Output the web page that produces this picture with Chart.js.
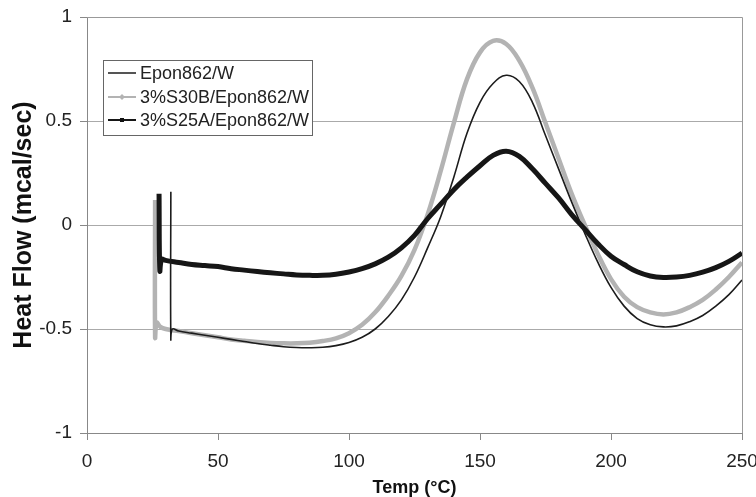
<!DOCTYPE html>
<html>
<head>
<meta charset="utf-8">
<script src="https://cdn.jsdelivr.net/npm/chart.js@4.4.1/dist/chart.umd.min.js"></script>
<style>
  html, body { margin: 0; padding: 0; background: #fff; }
  #wrap { width: 756px; height: 497px; }
</style>
</head>
<body>
<div id="wrap"><canvas id="dscChart" width="756" height="497"></canvas></div>
<script>
// DSC curves
var seriesNames = ['Epon862/W', '3%S30B/Epon862/W', '3%S25A/Epon862/W'];

var eponTemp = [32, 32, 32.6, 35, 40, 45, 50, 55, 60, 65, 70, 75, 80, 85, 90, 95, 100, 105, 110, 115, 120, 125, 130, 135, 140, 145, 150, 155, 160, 165, 170, 175, 180, 185, 190, 195, 200, 205, 210, 215, 220, 225, 230, 235, 240, 245, 250];
var eponFlow = [0.16, -0.55, -0.5, -0.51, -0.52, -0.53, -0.54, -0.55, -0.56, -0.57, -0.578, -0.585, -0.589, -0.59, -0.588, -0.58, -0.565, -0.54, -0.5, -0.44, -0.36, -0.25, -0.11, 0.04, 0.23, 0.44, 0.59, 0.68, 0.72, 0.69, 0.59, 0.43, 0.27, 0.11, -0.04, -0.18, -0.3, -0.39, -0.45, -0.48, -0.49, -0.485, -0.465, -0.435, -0.39, -0.335, -0.265];

var s30bTemp = [26, 26, 26.6, 28, 30, 35, 40, 45, 50, 55, 60, 65, 70, 75, 80, 85, 90, 95, 100, 105, 110, 115, 120, 125, 130, 135, 140, 145, 150, 155, 160, 165, 170, 175, 180, 185, 190, 195, 200, 205, 210, 215, 220, 225, 230, 235, 240, 245, 250];
var s30bFlow = [0.12, -0.54, -0.47, -0.49, -0.5, -0.51, -0.52, -0.53, -0.54, -0.55, -0.557, -0.563, -0.567, -0.569, -0.569, -0.566, -0.558, -0.545, -0.52, -0.48, -0.42, -0.34, -0.245, -0.12, 0.05, 0.26, 0.49, 0.7, 0.83, 0.885, 0.87, 0.79, 0.66, 0.49, 0.32, 0.15, 0, -0.14, -0.26, -0.345, -0.395, -0.42, -0.43, -0.42, -0.395, -0.36, -0.31, -0.25, -0.18];

var s25aTemp = [27.5, 27.8, 28.5, 30, 35, 40, 45, 50, 55, 60, 65, 70, 75, 80, 85, 90, 95, 100, 105, 110, 115, 120, 125, 130, 135, 140, 145, 150, 155, 160, 165, 170, 175, 180, 185, 190, 195, 200, 205, 210, 215, 220, 225, 230, 235, 240, 245, 250];
var s25aFlow = [0.15, -0.22, -0.165, -0.17, -0.18, -0.19, -0.195, -0.2, -0.21, -0.217, -0.224, -0.23, -0.235, -0.24, -0.242, -0.242, -0.237, -0.226, -0.21, -0.187, -0.155, -0.11, -0.05, 0.03, 0.1, 0.17, 0.23, 0.285, 0.335, 0.355, 0.33, 0.27, 0.2, 0.13, 0.05, -0.02, -0.09, -0.15, -0.19, -0.225, -0.245, -0.252, -0.25, -0.242, -0.227, -0.205, -0.175, -0.135];

var xTicks = [0, 50, 100, 150, 200, 250];
var yTicks = [-1, -0.5, 0, 0.5, 1];

var FONT = '"Liberation Sans", Arial, sans-serif';

function toPoints(xs, ys) {
    return xs.map(function (x, i) { return { x: x, y: ys[i] }; });
}

// legend box drawn inside the plot, like the original
var boxLegend = {
    id: 'boxLegend',
    afterDraw: function (chart) {
        var ctx = chart.ctx;
        var x0 = 103, y0 = 60, w = 209, h = 75;
        ctx.save();
        ctx.fillStyle = '#fff';
        ctx.fillRect(x0, y0, w, h);
        ctx.strokeStyle = '#666';
        ctx.lineWidth = 1;
        ctx.strokeRect(x0 + 0.5, y0 + 0.5, w, h);
        ctx.font = '18px ' + FONT;
        ctx.textBaseline = 'middle';
        var rows = [73, 97, 120];
        chart.data.datasets.forEach(function (ds, i) {
            var y = rows[i];
            ctx.strokeStyle = ds.borderColor;
            ctx.lineWidth = i === 0 ? 1.5 : 2;
            ctx.beginPath();
            ctx.moveTo(108, y);
            ctx.lineTo(136, y);
            ctx.stroke();
            if (i === 1) {
                ctx.fillStyle = ds.borderColor;
                ctx.beginPath();
                ctx.moveTo(122, y - 3); ctx.lineTo(125, y); ctx.lineTo(122, y + 3); ctx.lineTo(119, y);
                ctx.fill();
            }
            if (i === 2) {
                ctx.fillStyle = '#111';
                ctx.fillRect(120, y - 2, 4, 4);
            }
            ctx.fillStyle = '#222';
            ctx.fillText(ds.label, 140, y + 1);
        });
        ctx.restore();
    }
};

// top and right edges of the plot area
var plotFrame = {
    id: 'plotFrame',
    beforeDatasetsDraw: function (chart) {
        var a = chart.chartArea;
        var ctx = chart.ctx;
        ctx.save();
        ctx.strokeStyle = '#999';
        ctx.lineWidth = 1;
        ctx.beginPath();
        ctx.moveTo(a.left, a.top + 0.5);
        ctx.lineTo(a.right + 0.5, a.top + 0.5);
        ctx.lineTo(a.right + 0.5, a.bottom);
        ctx.stroke();
        ctx.restore();
    }
};

var ctx = document.getElementById('dscChart').getContext('2d');
var dscChart = new Chart(ctx, {
    type: 'line',
    data: {
        datasets: [{
            label: seriesNames[0],
            data: toPoints(eponTemp, eponFlow),
            borderColor: '#1c1c1c',
            borderWidth: 1.6,
            order: 0
        }, {
            label: seriesNames[1],
            data: toPoints(s30bTemp, s30bFlow),
            borderColor: '#b3b3b3',
            borderWidth: 4.5,
            order: 2
        }, {
            label: seriesNames[2],
            data: toPoints(s25aTemp, s25aFlow),
            borderColor: '#161616',
            borderWidth: 5,
            order: 1
        }]
    },
    options: {
        responsive: false,
        animation: false,
        devicePixelRatio: 1,
        layout: { padding: { top: 17, right: 14, left: 0, bottom: 0 } },
        elements: {
            point: { radius: 0 },
            line: { tension: 0.4, fill: false }
        },
        plugins: {
            legend: { display: false },
            tooltip: { enabled: false }
        },
        scales: {
            x: {
                type: 'linear',
                min: 0,
                max: 250,
                afterBuildTicks: function (scale) {
                    scale.ticks = xTicks.map(function (v) { return { value: v }; });
                },
                afterFit: function (scale) {
                    scale.height = 64;
                    scale.paddingLeft = 0;
                    scale.paddingRight = 0;
                },
                grid: { drawOnChartArea: false, tickLength: 7, color: '#888' },
                border: { color: '#888' },
                ticks: {
                    autoSkip: false,
                    maxRotation: 0,
                    padding: 10,
                    color: '#222',
                    font: { family: FONT, size: 19 }
                },
                title: {
                    display: true,
                    text: 'Temp (°C)',
                    color: '#111',
                    padding: { top: 0, bottom: 0 },
                    font: { family: FONT, size: 18, weight: 'bold', lineHeight: 1 }
                }
            },
            y: {
                min: -1,
                max: 1,
                afterBuildTicks: function (scale) {
                    scale.ticks = yTicks.map(function (v) { return { value: v }; });
                },
                afterFit: function (scale) {
                    scale.width = 87;
                    scale.paddingTop = 0;
                    scale.paddingBottom = 0;
                },
                grid: { tickLength: 7, color: '#aaa', tickColor: '#888' },
                border: { color: '#888' },
                ticks: {
                    padding: 8,
                    color: '#222',
                    font: { family: FONT, size: 19 },
                    callback: function (v) { return String(v); }
                },
                title: {
                    display: true,
                    text: 'Heat Flow (mcal/sec)',
                    color: '#111',
                    padding: { top: 9, bottom: 0 },
                    font: { family: FONT, size: 25, weight: 'bold', lineHeight: 1.2 }
                }
            }
        }
    },
    plugins: [plotFrame, boxLegend]
});
</script>
</body>
</html>
